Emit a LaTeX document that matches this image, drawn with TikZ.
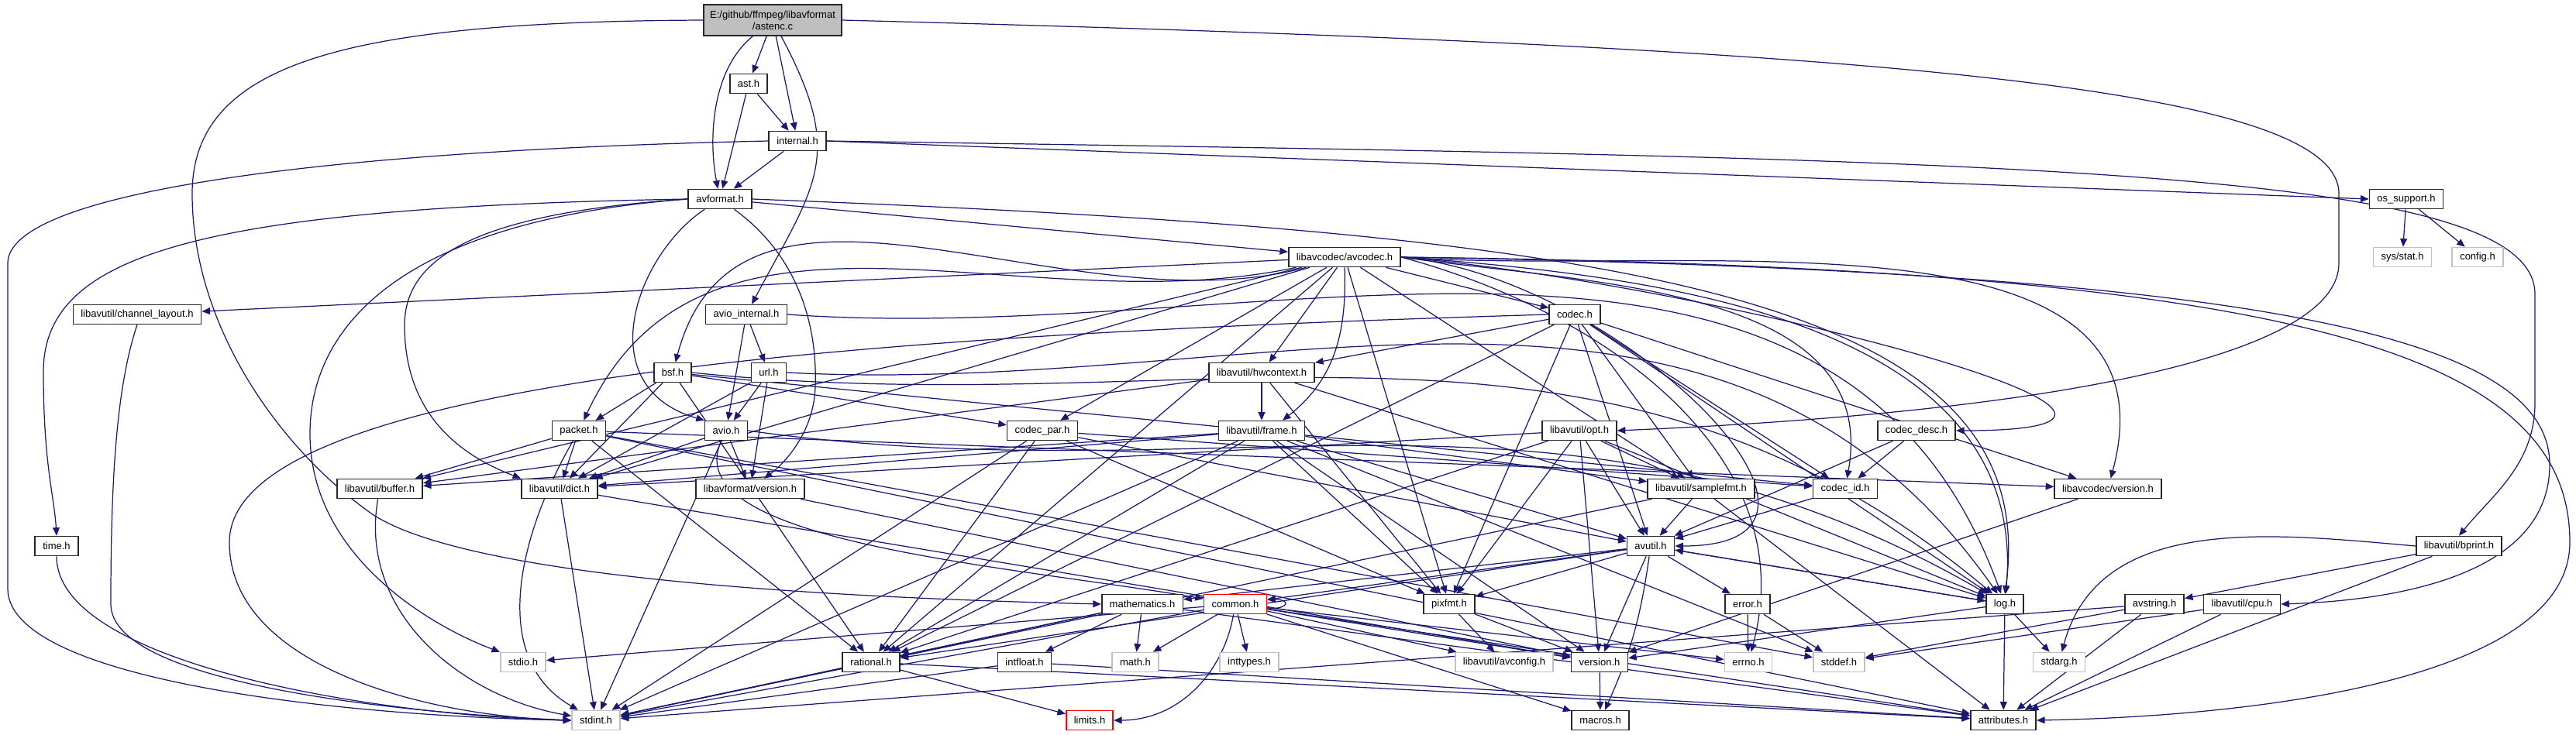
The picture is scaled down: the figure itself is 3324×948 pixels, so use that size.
\documentclass[tikz,border=0pt]{standalone}
\usepackage{fontspec}
\usepackage{xcolor}
\usepackage{tikz}
\usetikzlibrary{arrows.meta}
\newfontfamily\dxfont{Liberation Sans}
\definecolor{edgeblue}{HTML}{191970}
\definecolor{srcgray}{HTML}{BFBFBF}
\definecolor{sysgray}{HTML}{C0C0C0}
\definecolor{trunred}{HTML}{FF0000}
\pgfdeclarelayer{bg}
\pgfsetlayers{bg,main}

\begin{document}
\begin{tikzpicture}[x=0.01cm,y=-0.01cm,hdr/.style={draw=black!85,line width=0.45pt,fill=white,font=\dxfont\fontsize{3.7}{4.3}\selectfont,inner xsep=0.1cm,inner ysep=0.02cm,minimum height=0.25cm},sys/.style={hdr,draw=sysgray},trunc/.style={hdr,draw=trunred},src/.style={hdr,fill=srcgray,align=center,minimum height=0.4cm,inner xsep=0.08cm},dep/.style={-{Triangle[length=3pt,width=2.5pt]},draw=edgeblue,line width=0.35pt}]
\useasboundingbox (0,0) rectangle (3324,948);
\node[src] (astenc) at (997,26) {E:/github/ffmpeg/libavformat\\/astenc.c};
\node[hdr] (ast) at (966,108) {ast.h};
\node[hdr] (internal) at (1029,182) {internal.h};
\node[hdr] (avformat) at (929,257) {avformat.h};
\node[hdr] (ossupport) at (3105,257) {os\_support.h};
\node[sys] (sysstat) at (3100,332) {sys/stat.h};
\node[sys] (config) at (3197,332) {config.h};
\node[hdr] (avcodec) at (1735,332) {libavcodec/avcodec.h};
\node[hdr] (chlayout) at (177,406) {libavutil/channel\_layout.h};
\node[hdr] (aviointernal) at (963,406) {avio\_internal.h};
\node[hdr] (codec) at (2032,406) {codec.h};
\node[hdr] (bsf) at (868,481) {bsf.h};
\node[hdr] (url) at (992,481) {url.h};
\node[hdr] (hwcontext) at (1628,481) {libavutil/hwcontext.h};
\node[hdr] (packet) at (747,556) {packet.h};
\node[hdr] (avio) at (937,556) {avio.h};
\node[hdr] (codecpar) at (1345,556) {codec\_par.h};
\node[hdr] (frame) at (1628,556) {libavutil/frame.h};
\node[hdr] (opt) at (2038,556) {libavutil/opt.h};
\node[hdr] (codecdesc) at (2473,556) {codec\_desc.h};
\node[hdr] (buffer) at (490,631) {libavutil/buffer.h};
\node[hdr] (dict) at (722,631) {libavutil/dict.h};
\node[hdr] (lavfversion) at (968,631) {libavformat/version.h};
\node[hdr] (samplefmt) at (2195,631) {libavutil/samplefmt.h};
\node[hdr] (codecid) at (2381,631) {codec\_id.h};
\node[hdr] (lavcversion) at (2720,631) {libavcodec/version.h};
\node[hdr] (timeh) at (73,705) {time.h};
\node[hdr] (avutil) at (2130,705) {avutil.h};
\node[hdr] (bprint) at (3173,705) {libavutil/bprint.h};
\node[hdr] (mathematics) at (1474,780) {mathematics.h};
\node[trunc] (common) at (1594,780) {common.h};
\node[hdr] (pixfmt) at (1870,780) {pixfmt.h};
\node[hdr] (error) at (2255,780) {error.h};
\node[hdr] (logh) at (2587,780) {log.h};
\node[hdr] (avstring) at (2780,780) {avstring.h};
\node[hdr] (cpu) at (2893,780) {libavutil/cpu.h};
\node[sys] (stdio) at (675,855) {stdio.h};
\node[hdr] (rational) at (1124,855) {rational.h};
\node[hdr] (intfloat) at (1322,855) {intfloat.h};
\node[sys] (math) at (1465,855) {math.h};
\node[sys] (inttypes) at (1612,855) {inttypes.h};
\node[sys] (avconfig) at (1941,855) {libavutil/avconfig.h};
\node[hdr] (version) at (2064,855) {version.h};
\node[sys] (errno) at (2256,855) {errno.h};
\node[sys] (stddef) at (2373,855) {stddef.h};
\node[sys] (stdarg) at (2657,855) {stdarg.h};
\node[sys] (stdint) at (769,930) {stdint.h};
\node[trunc] (limits) at (1406,930) {limits.h};
\node[hdr] (macros) at (2065,930) {macros.h};
\node[hdr] (attributes) at (2585,930) {attributes.h};
\begin{pgfonlayer}{bg}
\draw[dep] (astenc) -- (ast);
\draw[dep] (astenc) -- (internal);
\draw[dep] (astenc) .. controls (918,90) and (914,180) .. (avformat);
\draw[dep] (astenc) to[out=-62,in=62,looseness=1.3] (aviointernal);
\draw[dep] (astenc.east) .. controls (2400,60) and (3018,110) .. (3018,250) -- (3018,340) .. controls (3018,450) and (2700,530) .. (opt.east);
\draw[dep] (astenc.west) .. controls (450,28) and (248,80) .. (248,250) .. controls (248,420) and (360,580) .. (482,665) .. controls (600,740) and (1000,770) .. (mathematics.west);
\draw[dep] (ast) -- (avformat);
\draw[dep] (ast) -- (internal);
\draw[dep] (internal) -- (avformat);
\draw[dep] (internal.east) -- (ossupport.west);
\draw[dep] (internal.east) .. controls (2600,205) and (3271,215) .. (3271,380) -- (3271,520) .. controls (3271,600) and (3215,640) .. (bprint.north);
\draw[dep] (internal.west) .. controls (400,195) and (10,250) .. (10,340) -- (10,760) .. controls (10,880) and (450,925) .. (stdint.west);
\draw[dep] (avformat.west) .. controls (250,268) and (56,330) .. (56,480) .. controls (56,600) and (70,640) .. (timeh.north);
\draw[dep] (avformat.west) .. controls (520,285) and (400,420) .. (400,560) .. controls (400,720) and (560,810) .. (stdio.north west);
\draw[dep] (avformat) -- (avcodec);
\draw[dep] (avformat.west) .. controls (620,275) and (522,330) .. (522,420) .. controls (522,540) and (600,590) .. (dict.north west);
\draw[dep] (avformat) .. controls (820,330) and (760,500) .. (avio.north west);
\draw[dep] (avformat) .. controls (1030,330) and (1055,420) .. (1052,500) .. controls (1050,560) and (1010,600) .. (lavfversion);
\draw[dep] (avformat.east) .. controls (2100,300) and (2640,380) .. (logh.north);
\draw[dep] (ossupport) -- (sysstat);
\draw[dep] (ossupport) -- (config);
\draw[dep] (avcodec) -- (chlayout);
\draw[dep] (avcodec) -- (buffer);
\draw[dep] (avcodec) -- (dict);
\draw[dep] (avcodec) to[out=195,in=75] (bsf);
\draw[dep] (avcodec) to[out=192,in=65] (packet);
\draw[dep] (avcodec) -- (codecpar);
\draw[dep] (avcodec) -- (rational);
\draw[dep] (avcodec) -- (hwcontext);
\draw[dep] (avcodec.south) .. controls (1738,430) and (1722,490) .. ([xshift=0.27cm]frame.north);
\draw[dep] (avcodec) -- (pixfmt);
\draw[dep] (avcodec) -- (codec);
\draw[dep] (avcodec) -- (samplefmt);
\draw[dep] (avcodec.east) to[out=-15,in=75] (errno);
\draw[dep] (avcodec.east) to[out=-8,in=80] (codecid);
\draw[dep] (avcodec.east) to[out=-5,in=0,looseness=1.4] (avutil.east);
\draw[dep] (avcodec.east) to[out=-5,in=0,looseness=1.4] (codecdesc.east);
\draw[dep] (avcodec.east) to[out=-4,in=75] (lavcversion);
\draw[dep] (avcodec.east) to[out=-4,in=85] (logh);
\draw[dep] (avcodec.east) .. controls (2900,350) and (3290,430) .. (3290,600) .. controls (3290,740) and (3100,775) .. (cpu.east);
\draw[dep] (avcodec.east) .. controls (2950,345) and (3316,450) .. (3316,700) .. controls (3316,880) and (2900,925) .. (attributes.east);
\draw[dep] (aviointernal) -- (avio);
\draw[dep] (aviointernal) -- (url);
\draw[dep] (aviointernal.east) to[out=-4,in=110] (logh);
\draw[dep] (url) -- (avio);
\draw[dep] (url) -- (lavfversion);
\draw[dep] (url) -- (dict);
\draw[dep] (url.east) to[out=-3,in=125] (logh);
\draw[dep] (avio) -- (stdint);
\draw[dep] (avio) .. controls (870,700) and (1300,730) .. (common);
\draw[dep] (avio) -- (dict);
\draw[dep] (avio.east) to[out=-8,in=150] (logh);
\draw[dep] (avio) -- (lavfversion);
\draw[dep] (bsf) -- (dict);
\draw[dep] (bsf.east) to[out=-6,in=140] (logh);
\draw[dep] (bsf) -- (rational);
\draw[dep] (bsf) -- (codecid);
\draw[dep] (bsf) -- (codecpar);
\draw[dep] (bsf) -- (packet);
\draw[dep] (codec.west) .. controls (1200,430) and (296,480) .. (296,700) .. controls (296,860) and (550,925) .. (stdint.west);
\draw[dep] (codec) -- (avutil);
\draw[dep] (codec) -- (hwcontext);
\draw[dep] (codec) -- (logh);
\draw[dep] (codec) -- (pixfmt);
\draw[dep] (codec) -- (rational);
\draw[dep] (codec) -- (samplefmt);
\draw[dep] (codec) -- (codecid);
\draw[dep] (codec) -- (lavcversion);
\draw[dep] (codecdesc) -- (avutil);
\draw[dep] (codecdesc) -- (codecid);
\draw[dep] (codecid) -- (avutil);
\draw[dep] (codecpar) -- (stdint);
\draw[dep] (codecpar) -- (avutil);
\draw[dep] (codecpar) -- (rational);
\draw[dep] (codecpar) -- (pixfmt);
\draw[dep] (codecpar) -- (codecid);
\draw[dep] (packet) -- (stddef);
\draw[dep] (packet) to[out=-120,in=150] (stdint);
\draw[dep] (packet) -- (attributes);
\draw[dep] (packet) -- (buffer);
\draw[dep] (packet) -- (dict);
\draw[dep] (packet) -- (rational);
\draw[dep] (packet) -- (lavcversion);
\draw[dep] (lavcversion) -- (version);
\draw[dep] (lavfversion) -- (version);
\draw[dep] (hwcontext) -- (buffer);
\draw[dep] (hwcontext) -- (frame);
\draw[dep] (hwcontext) -- (logh);
\draw[dep] (hwcontext) -- (pixfmt);
\draw[dep] (frame) -- (stddef);
\draw[dep] (frame) -- (stdint);
\draw[dep] (frame) -- (avutil);
\draw[dep] (frame) -- (buffer);
\draw[dep] (frame) -- (dict);
\draw[dep] (frame) -- (rational);
\draw[dep] (frame) -- (samplefmt);
\draw[dep] (frame) -- (pixfmt);
\draw[dep] (frame) -- (version);
\draw[dep] (opt) -- (rational);
\draw[dep] (opt) -- (avutil);
\draw[dep] (opt) -- (dict);
\draw[dep] (opt) -- (logh);
\draw[dep] (opt) -- (pixfmt);
\draw[dep] (opt) -- (samplefmt);
\draw[dep] (opt) -- (version);
\draw[dep] (samplefmt) -- (stdint);
\draw[dep] (samplefmt) -- (avutil);
\draw[dep] (samplefmt) -- (attributes);
\draw[dep] (avutil) -- (common);
\draw[dep] (avutil) -- (error);
\draw[dep] (avutil) -- (rational);
\draw[dep] (avutil) -- (version);
\draw[dep] (avutil) to[bend left=8] (macros);
\draw[dep] (avutil) -- (mathematics);
\draw[dep] (avutil) -- (logh);
\draw[dep] (avutil) -- (pixfmt);
\draw[dep] (common) -- (errno);
\draw[dep] (common) -- (inttypes);
\draw[dep] (common) to[out=-100,in=0] (limits);
\draw[dep] (common) -- (math);
\draw[dep] (common) -- (stdint);
\draw[dep] (common) -- (stdio);
\draw[dep] (common) -- (attributes);
\draw[dep] (common) -- (macros);
\draw[dep] (common) -- (version);
\draw[dep] (common) -- (avconfig);
\draw[dep] ([yshift=-0.06cm]common.east) .. controls +(30,0) and +(30,0) .. ([yshift=0.06cm]common.east);
\draw[dep] (mathematics) -- (stdint);
\draw[dep] (mathematics) -- (math);
\draw[dep] (mathematics) -- (attributes);
\draw[dep] (mathematics) -- (rational);
\draw[dep] (mathematics) -- (intfloat);
\draw[dep] (rational) -- (stdint);
\draw[dep] (rational) -- (limits);
\draw[dep] (rational) -- (attributes);
\draw[dep] (intfloat) -- (stdint);
\draw[dep] (intfloat) -- (attributes);
\draw[dep] (version) -- (macros);
\draw[dep] (error) -- (errno);
\draw[dep] (error) -- (stddef);
\draw[dep] (logh) -- (stdarg);
\draw[dep] (logh) -- (avutil);
\draw[dep] (logh) -- (attributes);
\draw[dep] (logh) -- (version);
\draw[dep] (pixfmt) -- (avconfig);
\draw[dep] (pixfmt) -- (version);
\draw[dep] (dict) -- (stdint);
\draw[dep] (dict) -- (version);
\draw[dep] (buffer) to[out=-100,in=170] (stdint);
\draw[dep] (chlayout.south) .. controls (150,500) and (143,620) .. (143,780) .. controls (143,880) and (500,920) .. (stdint.west);
\draw[dep] (timeh.south) .. controls (73,860) and (500,925) .. (stdint.west);
\draw[dep] (cpu) -- (attributes);
\draw[dep] (cpu) -- (stddef);
\draw[dep] (bprint.west) to[out=175,in=75] (stdarg);
\draw[dep] (bprint) -- (attributes);
\draw[dep] (bprint) -- (avstring);
\draw[dep] (avstring) -- (stddef);
\draw[dep] (avstring) -- (stdint);
\draw[dep] (avstring) -- (attributes);
\end{pgfonlayer}
\end{tikzpicture}
\end{document}
